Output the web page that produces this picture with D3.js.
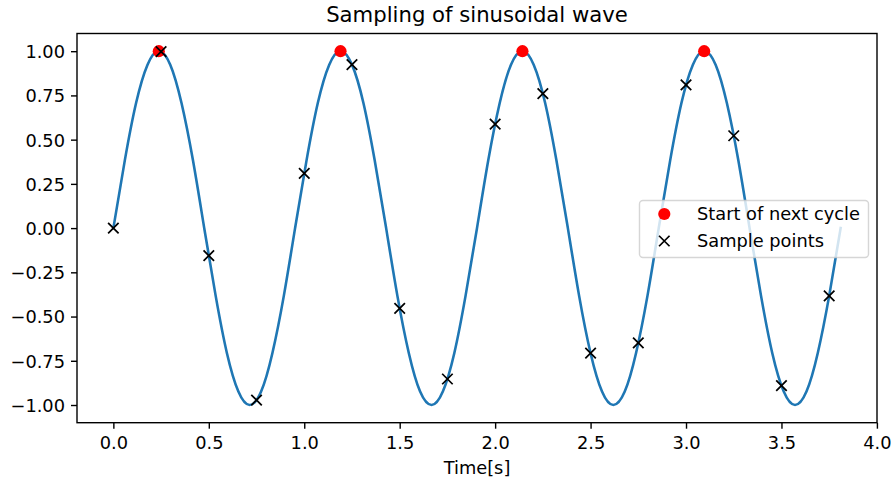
<!DOCTYPE html>
<html>
<head>
<meta charset="utf-8">
<script src="https://cdn.jsdelivr.net/npm/d3@7"></script>
<style>
  html, body { margin: 0; padding: 0; background: #ffffff; }
  svg { display: block; font-family: "DejaVu Sans", sans-serif; }
</style>
</head>
<body>
<svg id="chart" width="893" height="481"></svg>
<script>
// Continuous wave: time [s] and amplitude, one knot every 1/16 of a cycle
const waveTime = [
  0.000, 0.060, 0.119, 0.179, 0.238, 0.298, 0.357, 0.417,
  0.476, 0.536, 0.595, 0.655, 0.714, 0.774, 0.833, 0.893,
  0.952, 1.012, 1.071, 1.131, 1.190, 1.250, 1.310, 1.369,
  1.429, 1.488, 1.548, 1.607, 1.667, 1.726, 1.786, 1.845,
  1.905, 1.964, 2.024, 2.083, 2.143, 2.202, 2.262, 2.321,
  2.381, 2.440, 2.500, 2.560, 2.619, 2.679, 2.738, 2.798,
  2.857, 2.917, 2.976, 3.036, 3.095, 3.155, 3.214, 3.274,
  3.333, 3.393, 3.452, 3.512, 3.571, 3.631, 3.690, 3.750,
  3.810
];
const waveValue = [
  0, 0.383, 0.707, 0.924, 1, 0.924, 0.707, 0.383,
  0, -0.383, -0.707, -0.924, -1, -0.924, -0.707, -0.383,
  0, 0.383, 0.707, 0.924, 1, 0.924, 0.707, 0.383,
  0, -0.383, -0.707, -0.924, -1, -0.924, -0.707, -0.383,
  0, 0.383, 0.707, 0.924, 1, 0.924, 0.707, 0.383,
  0, -0.383, -0.707, -0.924, -1, -0.924, -0.707, -0.383,
  0, 0.383, 0.707, 0.924, 1, 0.924, 0.707, 0.383,
  0, -0.383, -0.707, -0.924, -1, -0.924, -0.707, -0.383,
  0
];

// Crest of each cycle
const cycleStartTime  = [0.238, 1.190, 2.143, 3.095];
const cycleStartValue = [1, 1, 1, 1];

// Samples taken every 0.25 s
const sampleTime  = [0, 0.25, 0.5, 0.75, 1.0, 1.25, 1.5, 1.75,
                     2.0, 2.25, 2.5, 2.75, 3.0, 3.25, 3.5, 3.75];
const sampleValue = [0, 0.997, -0.156, -0.972, 0.309, 0.924, -0.454, -0.853,
                     0.588, 0.760, -0.707, -0.649, 0.809, 0.522, -0.891, -0.383];

const xTicks = [0.0, 0.5, 1.0, 1.5, 2.0, 2.5, 3.0, 3.5, 4.0];
const yTicks = [-1.00, -0.75, -0.50, -0.25, 0.00, 0.25, 0.50, 0.75, 1.00];

const legendLabels = ["Start of next cycle", "Sample points"];

const svg = d3.select("#chart");
const box = { left: 77, right: 877, top: 33.5, bottom: 422.7 };
const labelSize = 17.8;

const x = d3.scaleLinear().domain([-0.1905, 4.0005]).range([box.left, box.right]);
const y = d3.scaleLinear().domain([-1.1, 1.1]).range([box.bottom, box.top]);

const fmtMinus = s => s.replace("-", "\u2212");

// Clip plotted marks to the axes box
svg.append("defs").append("clipPath").attr("id", "plotClip")
  .append("rect").attr("x", box.left).attr("y", box.top)
  .attr("width", box.right - box.left).attr("height", box.bottom - box.top);

const plot = svg.append("g").attr("clip-path", "url(#plotClip)");

// Wave
const wave = waveTime.map((t, i) => [t, waveValue[i]]);
plot.append("path")
  .datum(wave)
  .attr("fill", "none")
  .attr("stroke", "#1f77b4")
  .attr("stroke-width", 2.6)
  .attr("stroke-linejoin", "round")
  .attr("stroke-linecap", "square")
  .attr("d", d3.line().x(d => x(d[0])).y(d => y(d[1])).curve(d3.curveNatural));

// Red dots at each crest
plot.selectAll("circle.start")
  .data(cycleStartTime.map((t, i) => [t, cycleStartValue[i]]))
  .join("circle")
  .attr("class", "start")
  .attr("cx", d => x(d[0]))
  .attr("cy", d => y(d[1]))
  .attr("r", 6.1)
  .attr("fill", "#ff0000");

// Cross markers
const crossArm = 5.25;
function crossPath(cx, cy) {
  return `M${cx - crossArm},${cy - crossArm}L${cx + crossArm},${cy + crossArm}` +
         `M${cx - crossArm},${cy + crossArm}L${cx + crossArm},${cy - crossArm}`;
}
svg.append("g").selectAll("path")
  .data(sampleTime.map((t, i) => [t, sampleValue[i]]))
  .join("path")
  .attr("d", d => crossPath(x(d[0]), y(d[1])))
  .attr("stroke", "#000000")
  .attr("stroke-width", 1.75)
  .attr("fill", "none");

// Axes box
svg.append("rect")
  .attr("x", box.left).attr("y", box.top)
  .attr("width", box.right - box.left).attr("height", box.bottom - box.top)
  .attr("fill", "none").attr("stroke", "#000000").attr("stroke-width", 1.4);

// X axis
const xAxis = d3.axisBottom(x)
  .tickValues(xTicks)
  .tickFormat(d3.format(".1f"))
  .tickSize(6).tickPadding(6);
const gx = svg.append("g").attr("transform", `translate(0,${box.bottom})`).call(xAxis);
gx.select(".domain").remove();
gx.selectAll(".tick line").attr("stroke", "#000").attr("stroke-width", 1.4);
gx.selectAll(".tick text")
  .attr("fill", "#000")
  .attr("font-size", labelSize)
  .attr("font-family", "DejaVu Sans")
  .attr("dy", null)
  .attr("y", 26.8);

// Y axis
const yAxis = d3.axisLeft(y)
  .tickValues(yTicks)
  .tickFormat(d => fmtMinus(d3.format(".2f")(d)))
  .tickSize(6).tickPadding(6);
const gy = svg.append("g").attr("transform", `translate(${box.left},0)`).call(yAxis);
gy.select(".domain").remove();
gy.selectAll(".tick line").attr("stroke", "#000").attr("stroke-width", 1.4);
gy.selectAll(".tick text")
  .attr("fill", "#000")
  .attr("font-size", labelSize)
  .attr("font-family", "DejaVu Sans")
  .attr("x", -12)
  .attr("dy", "0.36em");

// Title and axis label
svg.append("text")
  .attr("x", (box.left + box.right) / 2).attr("y", 21.7)
  .attr("text-anchor", "middle")
  .attr("font-size", 21.2)
  .attr("fill", "#000")
  .text("Sampling of sinusoidal wave");

svg.append("text")
  .attr("x", (box.left + box.right) / 2).attr("y", 473.5)
  .attr("text-anchor", "middle")
  .attr("font-size", labelSize)
  .attr("fill", "#000")
  .text("Time[s]");

// Legend
const legend = svg.append("g");
legend.append("rect")
  .attr("x", 639.5).attr("y", 200.5)
  .attr("width", 229).attr("height", 57)
  .attr("rx", 3.5).attr("ry", 3.5)
  .attr("fill", "#ffffff").attr("fill-opacity", 0.8)
  .attr("stroke", "#cccccc").attr("stroke-opacity", 0.8)
  .attr("stroke-width", 1.4);

const rowY = [214, 241];
legend.append("circle")
  .attr("cx", 664.3).attr("cy", rowY[0]).attr("r", 6.1).attr("fill", "#ff0000");
legend.append("path")
  .attr("d", crossPath(664.3, rowY[1]))
  .attr("stroke", "#000").attr("stroke-width", 1.75);

legend.selectAll("text")
  .data(legendLabels)
  .join("text")
  .attr("x", 697)
  .attr("y", (d, i) => rowY[i])
  .attr("dy", "0.36em")
  .attr("font-size", labelSize)
  .attr("fill", "#000")
  .text(d => d);
</script>
</body>
</html>
